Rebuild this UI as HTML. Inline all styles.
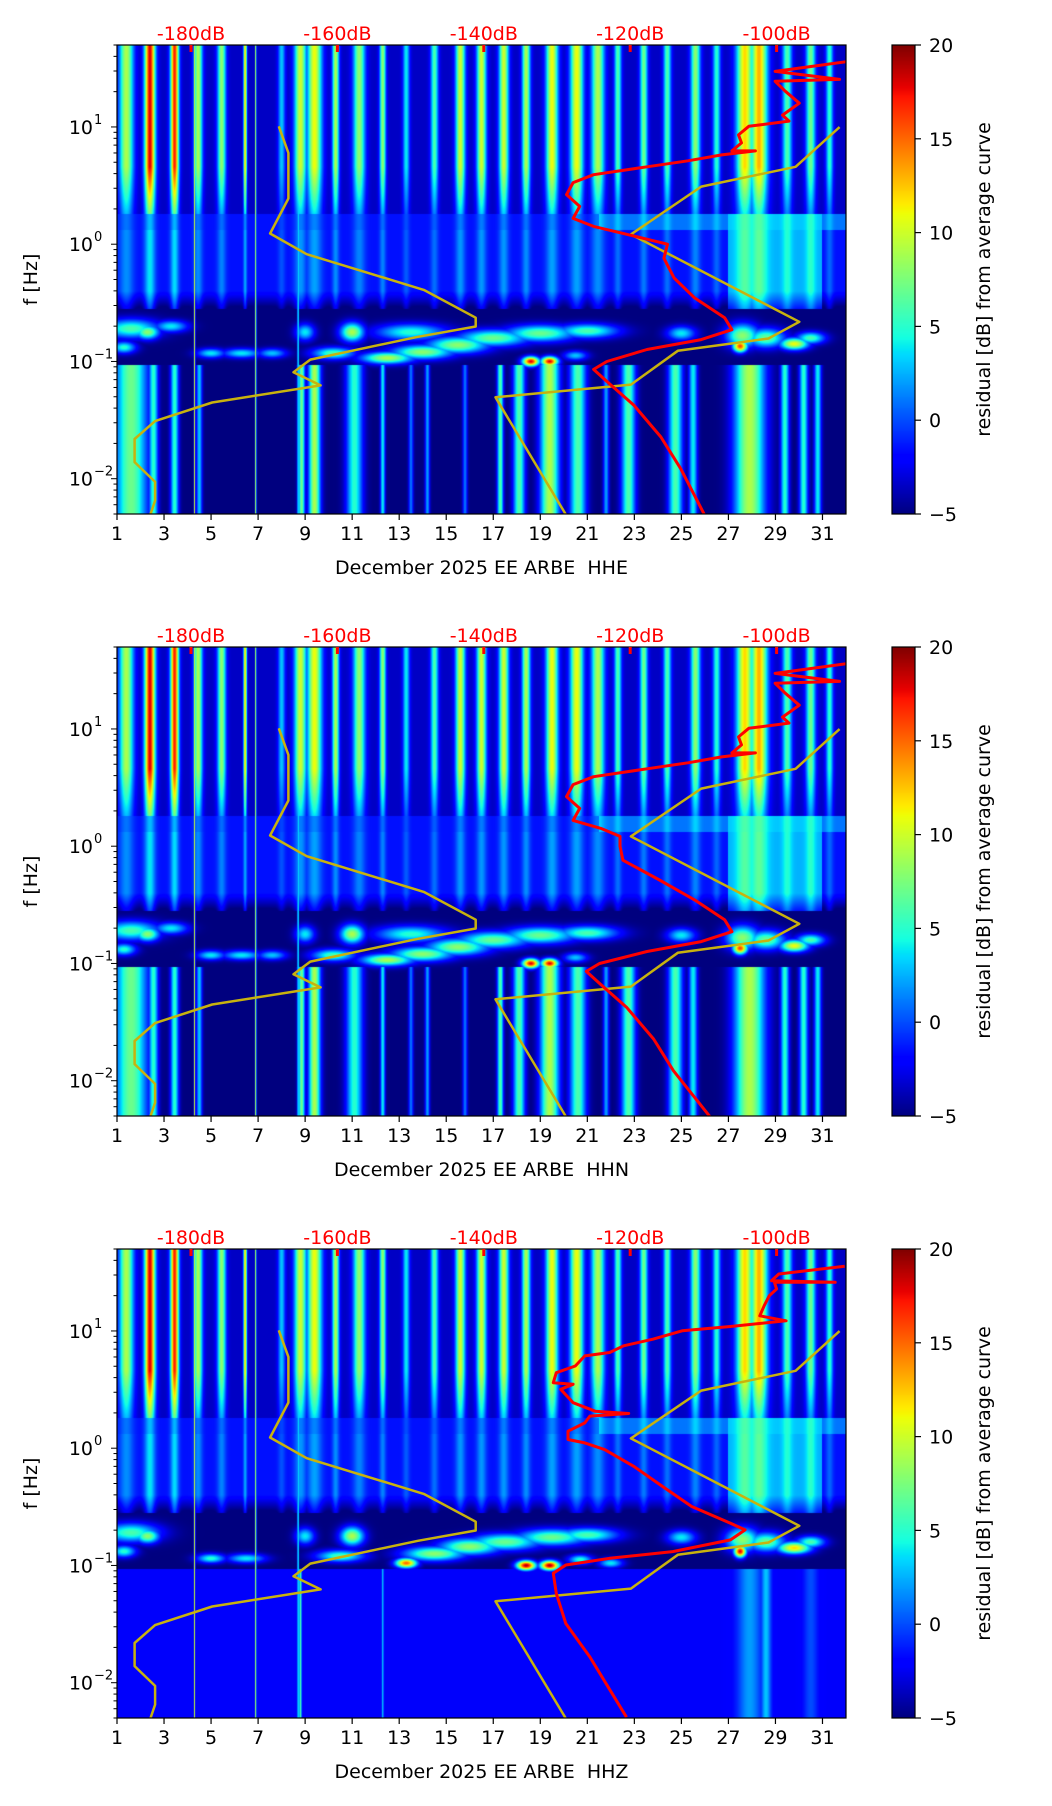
<!DOCTYPE html>
<html><head><meta charset="utf-8">
<style>
body{margin:0;background:#fff;width:1052px;height:1806px;overflow:hidden;position:relative;font-family:"DejaVu Sans","Liberation Sans",sans-serif;}
canvas{position:absolute;}
svg{position:absolute;left:0;top:0;}
</style></head>
<body>
<div id="root"></div>
<svg id="ov" width="1052" height="1806"></svg>
<script>
// ---------- data ----------
const panelNames = ["HHE","HHN","HHZ"];
const xTickDays = [1,3,5,7,9,11,13,15,17,19,21,23,25,27,29,31];
const yTickExps = [1,0,-1,-2];
const dbLabels = [-180,-160,-140,-120,-100];
const cbTicks = [20,15,10,5,0,-5];
// high band stripes: [day, width(days), residual dB]
const hiStripes = [[1.4,0.3,9],[2.4,0.22,18],[3.45,0.17,17],[4.45,0.18,9],[5.45,0.18,8],[6.45,0.07,12],[8.0,0.15,3],[8.8,0.25,10],[9.4,0.3,11],[10.3,0.14,9],[11.3,0.25,8],[12.3,0.13,8],[13.3,0.14,4],[14.5,0.16,6],[15.6,0.2,10],[16.5,0.2,10],[17.45,0.2,10],[18.4,0.17,9],[19.5,0.25,11],[20.55,0.27,11],[21.45,0.27,9],[22.3,0.15,6],[23.4,0.16,7],[24.4,0.16,6],[25.6,0.2,8],[26.5,0.16,5],[27.7,0.35,12],[28.3,0.35,13],[29.5,0.2,6],[30.5,0.2,7],[31.3,0.15,5]];
// low band stripes (f<0.1Hz), horizontal components
const loStripesH = [[1.6,0.7,7],[2.55,0.2,5],[3.45,0.17,5],[4.5,0.12,3],[8.85,0.14,7],[9.4,0.25,9],[11.1,0.35,5],[12.3,0.1,4],[14.2,0.1,2],[17.3,0.13,6],[18.1,0.25,6],[19.4,0.4,9],[20.6,0.35,6],[22.75,0.3,6],[24.75,0.3,6],[25.5,0.18,4],[27.9,0.65,9],[29.4,0.18,5],[30.2,0.18,5],[30.8,0.15,4],[13.5,0.1,1],[15.8,0.1,1],[21.8,0.12,2]];
// low band stripes, vertical component
const loStripesZ = [[8.8,0.05,6],[12.3,0.04,3],[27.9,0.5,2],[28.6,0.2,3],[30.5,0.3,0]];
// thin full-height lines [day, width, dB]
const lines = [[4.3,0.03,10],[6.9,0.03,10],[8.7,0.03,7]];
// blobs [day, log10 f, sd day, sd logf, dB]
const blobsH = [[1.6,-0.72,1.2,0.08,6],[2.3,-0.75,0.5,0.06,8],[3.3,-0.7,0.7,0.05,4],[1.3,-0.88,0.5,0.05,5],[5.0,-0.93,0.6,0.04,4],[6.3,-0.93,0.8,0.04,4],[7.6,-0.93,0.6,0.04,3],[9.0,-0.75,0.4,0.07,4],[11.0,-0.75,0.5,0.08,9],[10.2,-0.93,0.9,0.05,6],[12.5,-0.97,1.1,0.05,9],[14.0,-0.92,1.3,0.06,8],[15.5,-0.86,1.3,0.07,8],[17.0,-0.80,1.5,0.07,7],[19.0,-0.76,1.5,0.07,7],[21.0,-0.74,1.3,0.06,6],[13.5,-0.75,1.5,0.07,5],[18.6,-1.0,0.35,0.04,18],[19.4,-1.0,0.35,0.04,18],[20.5,-0.95,0.5,0.04,3],[25.0,-0.76,0.6,0.06,4],[27.6,-0.78,0.7,0.1,8],[27.5,-0.87,0.3,0.05,16],[28.6,-0.8,0.8,0.08,7],[29.8,-0.85,0.6,0.05,11],[30.5,-0.8,0.6,0.05,6]];
const blobsZ = [[1.6,-0.72,1.2,0.08,6],[2.3,-0.75,0.5,0.06,8],[1.3,-0.88,0.5,0.05,5],[5.0,-0.94,0.6,0.04,5],[6.5,-0.94,0.8,0.04,4],[9.0,-0.75,0.4,0.07,4],[11.0,-0.75,0.5,0.08,9],[10.5,-0.92,1.0,0.05,6],[13.3,-0.98,0.45,0.04,15],[14.5,-0.9,1.3,0.06,8],[16.0,-0.84,1.3,0.07,8],[17.5,-0.80,1.5,0.07,7],[19.5,-0.76,1.5,0.07,7],[21.0,-0.74,1.3,0.06,6],[18.4,-1.0,0.4,0.04,19],[19.4,-1.0,0.4,0.04,19],[20.7,-0.95,0.5,0.04,5],[22.0,-0.98,0.5,0.04,4],[25.0,-0.76,0.6,0.06,4],[27.6,-0.78,0.7,0.1,8],[27.5,-0.88,0.25,0.05,18],[28.6,-0.8,0.8,0.08,7],[29.8,-0.85,0.7,0.05,12],[30.5,-0.8,0.6,0.05,6]];
// Peterson noise models [dB, log10 f]
const nlnmDb = [-168.0,-166.7,-166.7,-169.2,-164.2,-148.2,-141.1,-141.1,-149.0,-163.7,-166.0,-162.3,-177.1,-184.9,-187.7,-187.7,-184.9,-184.9,-185.6];
const nlnmLf = [1.006,0.779,0.390,0.091,-0.085,-0.390,-0.627,-0.702,-0.79,-0.984,-1.092,-1.204,-1.350,-1.509,-1.661,-1.858,-2.027,-2.187,-2.315];
const nhnmDb = [-91.4,-97.4,-110.3,-119.9,-96.9,-101.1,-113.5,-119.9,-138.4,-128.7];
const nhnmLf = [0.999,0.66,0.491,0.084,-0.662,-0.804,-0.909,-1.197,-1.306,-2.315];
// average curves
const avgHDb = [-90.2,-100.2,-91.4,-100.2,-98.8,-96.9,-99.2,-98.3,-103.8,-105.2,-104.8,-106.1,-102.9,-107.5,-112.1,-117.7,-125.0,-127.8,-128.7,-126.9,-127.8,-125.0,-120.4,-114.9,-115.4,-114.0,-111.2,-107.1,-106.1,-110.3,-117.7,-123.2,-125.0,-123.2,-119.5,-115.8,-113.1,-109.8];
const avgHLf = [1.559,1.474,1.406,1.389,1.304,1.203,1.101,1.050,1.006,0.932,0.864,0.796,0.796,0.762,0.711,0.660,0.593,0.525,0.423,0.322,0.220,0.152,0.084,0.000,-0.119,-0.288,-0.458,-0.627,-0.729,-0.814,-0.898,-1.000,-1.068,-1.170,-1.373,-1.644,-1.915,-2.315];
const avgNDb = [-90.2,-100.2,-91.4,-100.2,-98.8,-96.9,-99.2,-98.3,-103.8,-105.2,-104.8,-106.1,-102.9,-107.5,-112.1,-117.7,-125.0,-127.8,-128.7,-126.9,-127.8,-124.0,-121.4,-121.4,-121.0,-116.0,-111.2,-107.1,-106.1,-110.3,-117.7,-124.2,-126.0,-124.2,-120.5,-116.8,-114.1,-109.0];
const avgZDb = [-90.7,-99.7,-100.7,-92.0,-100.3,-100.0,-101.0,-101.7,-102.3,-98.7,-106.3,-112.9,-116.9,-120.9,-122.8,-126.2,-127.5,-130.1,-130.5,-127.8,-129.5,-127.8,-124.8,-120.2,-125.5,-126.2,-128.5,-128.5,-126.2,-123.5,-119.5,-115.6,-111.6,-106.3,-104.3,-106.3,-114.2,-122.8,-128.8,-130.5,-130.1,-128.8,-125.5,-120.5];
const avgZLf = [1.552,1.486,1.429,1.415,1.415,1.358,1.301,1.215,1.129,1.087,1.038,1.001,0.930,0.873,0.816,0.787,0.701,0.644,0.559,0.545,0.502,0.388,0.316,0.296,0.274,0.216,0.145,0.074,0.045,-0.012,-0.155,-0.326,-0.497,-0.640,-0.697,-0.782,-0.882,-0.939,-0.996,-1.067,-1.239,-1.495,-1.781,-2.294];

// ---------- geometry ----------
const PL=117, PW=729, PH=469, TOPS=[45,647,1249];
const LMAX=Math.log10(50), LMIN=Math.log10(0.005);
const CBX=892, CBW=23;
function xDay(d){return PL+(d-1)*PW/31;}
function dayX(x){return 1+x*31/PW;}
function yL(L,top){return top+(LMAX-L)/(LMAX-LMIN)*PH;}
function xDb(db){return 191+(db+180)*7.32;}

function jet(t){
  t=Math.max(0,Math.min(1,t));
  function pw(p){for(let i=1;i<p.length;i++){if(t<=p[i][0]){const a=p[i-1],b=p[i];return a[1]+(b[1]-a[1])*(t-a[0])/(b[0]-a[0]);}}return p[p.length-1][1];}
  const r=pw([[0,0],[0.35,0],[0.66,1],[0.89,1],[1,0.5]]);
  const g=pw([[0,0],[0.125,0],[0.375,1],[0.64,1],[0.91,0],[1,0]]);
  const b=pw([[0,0.5],[0.11,1],[0.34,1],[0.65,0],[1,0]]);
  return [r*255|0,g*255|0,b*255|0];
}
function stripeCol(d,arr,base){
  let v=base;
  for(const s of arr){const z=(d-s[0])/s[1];const g=Math.exp(-z*z);const w=base+(s[2]-base)*g;if(w>v)v=w;}
  return v;
}
const cl=(v,a,b)=>Math.max(a,Math.min(b,v));

const root=document.getElementById('root');
const ov=document.getElementById('ov');
const NS='http://www.w3.org/2000/svg';
function el(tag,attrs,parent){const e=document.createElementNS(NS,tag);for(const k in attrs)e.setAttribute(k,attrs[k]);(parent||ov).appendChild(e);return e;}

const defs=el('defs',{});
TOPS.forEach((top,p)=>{
  const cp=el('clipPath',{id:'clip'+p},defs);
  el('rect',{x:PL,y:top,width:PW,height:PH},cp);
});

TOPS.forEach((top,p)=>{
  const isZ=(p===2);
  const blobs=isZ?blobsZ:blobsH;
  const lo=isZ?loStripesZ:loStripesH;
  const cv=document.createElement('canvas');
  cv.width=PW;cv.height=PH;cv.style.left=PL+'px';cv.style.top=top+'px';
  
  
  root.appendChild(cv);
  const ctx=cv.getContext('2d');
  const img=ctx.createImageData(PW,PH);
  const H=[],LO=[],LN=[];
  for(let x=0;x<PW;x++){const d=dayX(x+0.5);H.push(stripeCol(d,hiStripes,-3.5));LO.push(stripeCol(d,lo,isZ?-2.3:-5));LN.push(stripeCol(d,lines,-5));}
  for(let y=0;y<PH;y++){
    const L=LMAX-(y+0.5)/PH*(LMAX-LMIN);
    for(let x=0;x<PW;x++){
      const d=dayX(x+0.5);
      let v;
      if(L>0.26){const f=0.5+0.5*cl((L-0.26)/0.4,0,1);v=-3.5+(H[x]+3.5)*f;}
      else if(L>0.12){v=-1.5+(H[x]+3.5)*0.2+(d>21.5?2.5:0)+(d>27&&d<31?2:0);}
      else if(L>-0.55){v=-1.5+(H[x]+3.5)*0.25+(d>27&&d<31?4:0);
        if(L<-0.4){v=v-((-0.4-L)/0.15)*4;}}
      else if(L>-1.03){v=-5;}
      else {v=LO[x];}
      for(const b of blobs){const a=(d-b[0])/b[2],c=(L-b[1])/b[3];const e=a*a+c*c;if(e<9){const w=-5+(b[4]+5)*Math.exp(-e);if(w>v)v=w;}}
      if(LN[x]>v)v=LN[x];
      const col=jet((v+5)/25);
      const i=(y*PW+x)*4;img.data[i]=col[0];img.data[i+1]=col[1];img.data[i+2]=col[2];img.data[i+3]=255;
    }
  }
  ctx.putImageData(img,0,0);

  // colorbar
  const cb=document.createElement('canvas');
  cb.width=CBW;cb.height=PH;cb.style.left=CBX+'px';cb.style.top=top+'px';
  
  
  root.appendChild(cb);
  const c2=cb.getContext('2d');
  for(let y=0;y<PH;y++){const col=jet(1-(y+0.5)/PH);c2.fillStyle='rgb('+col.join(',')+')';c2.fillRect(0,y,CBW,1);}

  const g=el('g',{});
  
  
  const cg=el('g',{'clip-path':'url(#clip'+p+')'},g);
  function poly(dbArr,lfArr,color,w,name){
    let pts=dbArr.map((db,i)=>xDb(db).toFixed(1)+','+yL(lfArr[i],top).toFixed(1)).join(' ');
    const pl=el('polyline',{points:pts,fill:'none',stroke:color,'stroke-width':w,'stroke-linejoin':'round'},cg);
    
    
  }
  poly(nlnmDb,nlnmLf,'#c8b20e',2.5,'nlnm-curve');
  poly(nhnmDb,nhnmLf,'#c8b20e',2.5,'nhnm-curve');
  const aDb=p===0?avgHDb:(p===1?avgNDb:avgZDb);
  const aLf=p===2?avgZLf:avgHLf;
  poly(aDb,aLf,'#ff0000',3,'average-curve');
  const fr=el('rect',{x:PL,y:top,width:PW,height:PH,fill:'none',stroke:'#000','stroke-width':1.2},g);
  
  
  el('rect',{x:CBX,y:top,width:CBW,height:PH,fill:'none',stroke:'#000','stroke-width':1.2},g);
  dbLabels.forEach(db=>{
    const x=xDb(db);
    el('rect',{x:x-1.5,y:top,width:3,height:7,fill:'#ff0000'},g);
    const t=el('text',{x:x,y:top-5,'text-anchor':'middle','font-size':19,fill:'#ff0000'},g);
    t.textContent=db+'dB';
    
    
  });
  xTickDays.forEach(d=>{
    const x=xDay(d);
    el('line',{x1:x,y1:top+PH,x2:x,y2:top+PH+6,stroke:'#000','stroke-width':1.2},g);
    const t=el('text',{x:x,y:top+PH+26,'text-anchor':'middle','font-size':19,fill:'#000'},g);
    t.textContent=d;
    
    
  });
  const xl=el('text',{x:PL+PW/2,y:top+PH+60,'text-anchor':'middle','font-size':19,fill:'#000'},g);
  xl.textContent='December 2025 EE ARBE\u00a0 '+panelNames[p];
  
  
  for(let e=-3;e<=1;e++){for(let k=1;k<=9;k++){const L=e+Math.log10(k);if(L<LMIN||L>LMAX)continue;const y=yL(L,top);
    el('line',{x1:PL,y1:y,x2:PL-(k===1?6:3.5),y2:y,stroke:'#000','stroke-width':1},g);}}
  yTickExps.forEach(e=>{
    const y=yL(e,top);
    const t=el('text',{x:PL-24,y:y+7,'text-anchor':'end','font-size':19,fill:'#000'},g);
    t.textContent='10';
    
    
    const s=el('text',{x:PL-23,y:y-3,'text-anchor':'start','font-size':13,fill:'#000'},g);
    s.textContent=(e<0?'\u2212':'')+Math.abs(e);
  });
  const yl=el('text',{x:0,y:0,'text-anchor':'middle','font-size':19,fill:'#000',transform:'translate(37,'+(top+PH/2)+') rotate(-90)'},g);
  yl.textContent='f [Hz]';
  
  
  cbTicks.forEach(v=>{
    const y=top+(20-v)/25*PH;
    el('line',{x1:CBX+CBW,y1:y,x2:CBX+CBW+6,y2:y,stroke:'#000','stroke-width':1.2},g);
    const t=el('text',{x:CBX+CBW+14,y:y+7,'font-size':19,fill:'#000'},g);
    t.textContent=v<0?'\u2212'+Math.abs(v):String(v);
    
    
  });
  const cl2=el('text',{x:0,y:0,'text-anchor':'middle','font-size':19,fill:'#000',transform:'translate(990,'+(top+PH/2)+') rotate(-90)'},g);
  cl2.textContent='residual [dB] from average curve';
  
  
});
</script>
</body></html>
